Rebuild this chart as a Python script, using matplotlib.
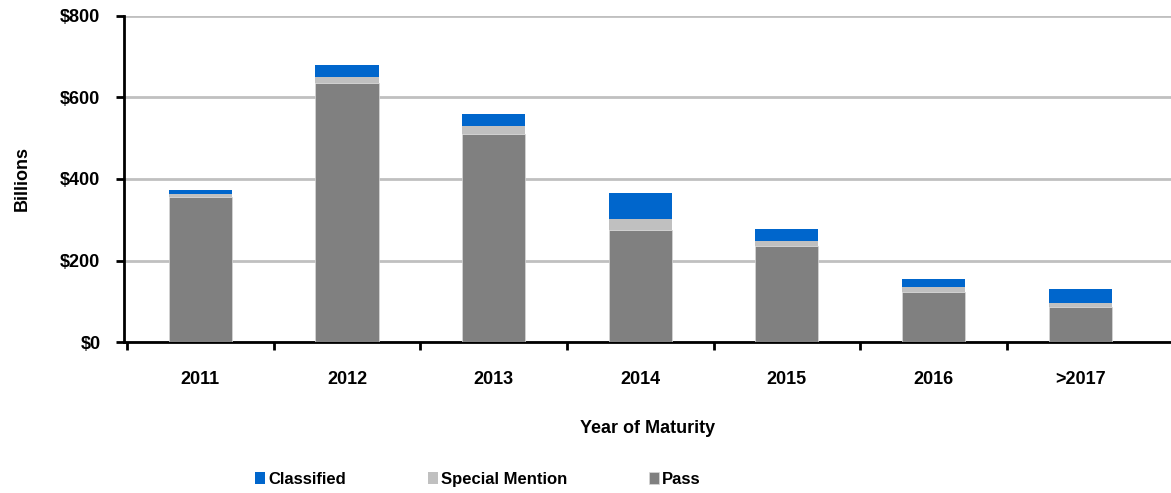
import matplotlib.pyplot as plt
import numpy as np

plt.rcParams['font.family'] = ['Liberation Sans', 'DejaVu Sans']
plt.rcParams['font.weight'] = 'bold'

years = ['2011', '2012', '2013', '2014', '2015', '2016', '>2017']
passed = [356, 635, 510, 274, 236, 123, 87]  # $ billions
special = [7, 15, 21, 29, 13, 13, 8]
classified = [9, 29, 29, 62, 28, 19, 35]

fig = plt.figure(figsize=(11.71, 4.93), dpi=100)
ax = fig.add_axes([0.106, 0.306, 0.894, 0.662])

x = np.arange(len(years))
w = 0.43
p = np.array(passed)
s = np.array(special)
c = np.array(classified)
ax.bar(x, p, w, color='#808080', label='Pass', zorder=3, edgecolor='#d8d8d8', linewidth=0.5)
ax.bar(x, s, w, bottom=p, color='#c0c0c0', label='Special Mention', zorder=3)
ax.bar(x, c, w, bottom=p + s, color='#0066cc', label='Classified', zorder=3)

ax.set_ylim(0, 800)
ax.set_xlim(-0.52, 6.62)
ax.set_yticks([0, 200, 400, 600, 800])
ax.set_yticklabels(['$0', '$200', '$400', '$600', '$800'])
ax.yaxis.grid(True, color='#c0c0c0', linewidth=2)
ax.set_axisbelow(True)

ax.set_xticks(x)
ax.set_xticklabels(years)
ax.set_xticks(np.arange(len(years)) - 0.5, minor=True)
ax.tick_params(axis='x', which='major', length=0, pad=21, labelsize=13)
ax.tick_params(axis='x', which='minor', length=6, width=2, direction='out')
ax.tick_params(axis='y', length=6, width=2, labelsize=13, pad=11)

for side in ['top', 'right']:
    ax.spines[side].set_visible(False)
for side in ['left', 'bottom']:
    ax.spines[side].set_linewidth(2)

ax.set_ylabel('Billions', fontsize=13, fontweight='bold', labelpad=21)
ax.set_xlabel('Year of Maturity', fontsize=13, fontweight='bold', labelpad=23)

handles, labels = ax.get_legend_handles_labels()
fig.legend(handles[::-1], labels[::-1], loc='center', bbox_to_anchor=(0.408, 0.028),
           ncol=3, frameon=False, fontsize=12, handlelength=0.6, handleheight=0.7,
           handletextpad=0.2, columnspacing=4.9)

fig.savefig('out.png', dpi=100)
